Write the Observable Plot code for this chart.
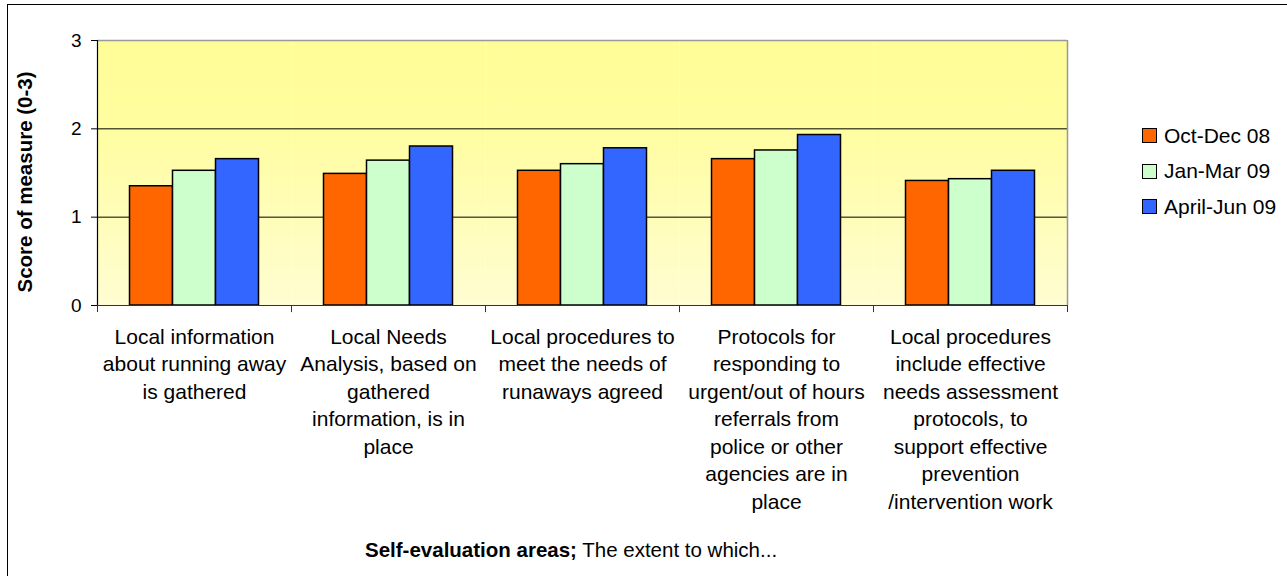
<!DOCTYPE html>
<html>
<head>
<meta charset="utf-8">
<script src="https://cdn.jsdelivr.net/npm/d3@7"></script>
<script src="https://cdn.jsdelivr.net/npm/@observablehq/plot@0.6"></script>
<style>
  html, body { margin: 0; padding: 0; background: #fff; }
  body { font-family: "Liberation Sans", Arial, sans-serif; color: #000; }
  #wrap { position: relative; width: 1287px; height: 576px; overflow: hidden; }
  #outer { position: absolute; left: 7px; top: 4px; width: 1400px; height: 700px; border: 1.5px solid #000; box-sizing: border-box; }
  #chart { position: absolute; left: 0; top: 0; }
  #legend { position: absolute; left: 1142px; top: 118px; font-size: 21px; }
  #legend .row { display: flex; align-items: center; height: 35.5px; white-space: nowrap; }
  #legend .sw { width: 13px; height: 13px; border: 1.5px solid #000; margin-right: 7px; box-sizing: content-box; }
  #xtitle { position: absolute; left: 365px; top: 540px; font-size: 20.5px; line-height: 1; white-space: nowrap; }
</style>
</head>
<body>
<div id="wrap">
  <div id="outer"></div>
  <div id="chart"></div>
  <div id="legend"></div>
  <div id="xtitle"><b>Self-evaluation areas;</b> The extent to which...</div>
</div>
<script>
// ---- data ----
const categories = [
  "Local information about running away is gathered",
  "Local Needs Analysis, based on gathered information, is in place",
  "Local procedures to meet the needs of runaways agreed",
  "Protocols for responding to urgent/out of hours referrals from police or other agencies are in place",
  "Local procedures include effective needs assessment protocols, to support effective prevention /intervention work"
];
const categoryLabels = [
  "Local information\nabout running away\nis gathered",
  "Local Needs\nAnalysis, based on\ngathered\ninformation, is in\nplace",
  "Local procedures to\nmeet the needs of\nrunaways agreed",
  "Protocols for\nresponding to\nurgent/out of hours\nreferrals from\npolice or other\nagencies are in\nplace",
  "Local procedures\ninclude effective\nneeds assessment\nprotocols, to\nsupport effective\nprevention\n/intervention work"
];
const series = ["Oct-Dec 08", "Jan-Mar 09", "April-Jun 09"];
const octDec08 = [1.35, 1.49, 1.525, 1.657, 1.41];
const janMar09 = [1.525, 1.64, 1.60, 1.755, 1.43];
const aprJun09 = [1.657, 1.80, 1.78, 1.93, 1.525];
const seriesColors = ["#FF6600", "#CCFFCC", "#3366FF"];
const yTicks = [0, 1, 2, 3];
const yLabel = "Score of measure (0-3)";

// ---- table ----
const seriesValues = [octDec08, janMar09, aprJun09];
const rows = categories.flatMap((c, i) =>
  seriesValues.map((vals, s) => ({cat: c, series: series[s], idx: s, value: vals[i]}))
);

const pad = 0.756;
const xDomain = [-pad, series.length + pad];
const font = '"Liberation Sans", Arial, sans-serif';

const plot = Plot.plot({
  width: 1287,
  height: 576,
  marginLeft: 97,
  marginRight: 220,
  marginTop: 40,
  marginBottom: 271,
  style: {fontFamily: font, color: "#000", background: "none", overflow: "visible"},
  fx: {domain: categories, padding: 0, label: null},
  x: {domain: xDomain, axis: null},
  y: {domain: [0, 3], label: null},
  color: {domain: series, range: seriesColors},
  marks: [
    Plot.frame({fill: "url(#bgGrad)", stroke: "none"}),
    Plot.ruleY([1, 2], {stroke: "#000", strokeWidth: 1}),
    Plot.ruleY([3], {stroke: "#999", strokeWidth: 1.5}),
    Plot.rect(rows, {
      fx: "cat",
      x1: "idx",
      x2: d => d.idx + 1,
      y1: () => 0,
      y2: "value",
      fill: "series",
      stroke: "#000",
      strokeWidth: 1.5
    }),
    Plot.ruleY([0], {stroke: "#333", strokeWidth: 1}),
    Plot.ruleX(xDomain, {y1: () => 0, y2: () => -0.08, stroke: "#333", strokeWidth: 1}),
    Plot.ruleX([categories[0]], {fx: d => d, x: () => xDomain[0], y1: () => 0, y2: () => 3, stroke: "#000", strokeWidth: 1.2}),
    Plot.ruleX([categories[categories.length - 1]], {fx: d => d, x: () => xDomain[1], y1: () => 0, y2: () => 3, stroke: "#999", strokeWidth: 1.5}),
    Plot.axisY({ticks: yTicks, tickFormat: d => String(d), tickSize: 6, tickPadding: 10, fontSize: 19, label: null}),
    Plot.axisFx({
      anchor: "bottom",
      tickSize: 0,
      tickPadding: 18.5,
      fontSize: 21,
      lineHeight: 1.31,
      label: null,
      tickFormat: d => categoryLabels[categories.indexOf(d)]
    }),
    Plot.text([categories[0]], {
      fx: d => d,
      text: () => yLabel,
      frameAnchor: "left",
      textAnchor: "middle",
      dx: -72,
      dy: 9,
      rotate: -90,
      fontWeight: "bold",
      fontSize: 20.5
    })
  ]
});

const svgEl = plot.tagName.toLowerCase() === "svg" ? plot : plot.querySelector("svg");
const defs = document.createElementNS("http://www.w3.org/2000/svg", "defs");
defs.innerHTML = '<linearGradient id="bgGrad" x1="0" y1="0" x2="0" y2="1">' +
  '<stop offset="0" stop-color="#FFFD98"/>' +
  '<stop offset="0.3" stop-color="#FFFD9E"/>' +
  '<stop offset="1" stop-color="#FFFDD2"/>' +
  '</linearGradient>';
svgEl.insertBefore(defs, svgEl.firstChild);
document.getElementById("chart").appendChild(plot);

// legend
const legend = document.getElementById("legend");
series.forEach((s, i) => {
  const row = document.createElement("div");
  row.className = "row";
  const sw = document.createElement("span");
  sw.className = "sw";
  sw.style.background = seriesColors[i];
  const t = document.createElement("span");
  t.textContent = s;
  row.appendChild(sw);
  row.appendChild(t);
  legend.appendChild(row);
});
</script>
</body>
</html>
